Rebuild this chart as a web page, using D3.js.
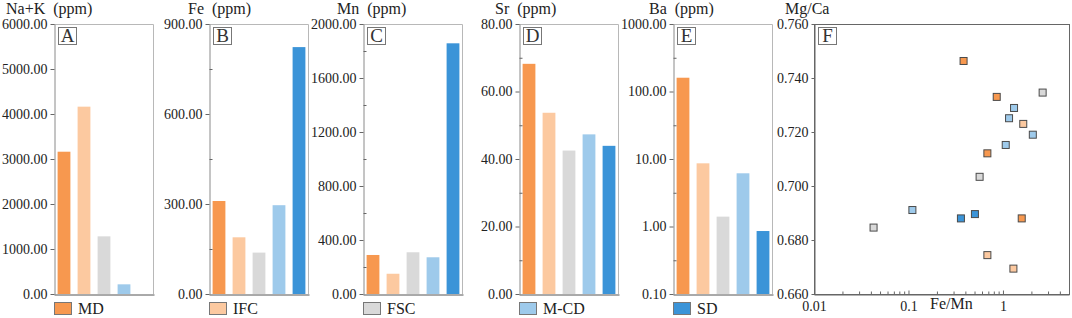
<!DOCTYPE html>
<html>
<head>
<meta charset="utf-8">
<script src="https://cdn.jsdelivr.net/npm/d3@7"></script>
<style>
  body { margin: 0; background: #fff; }
  svg { display: block; }
</style>
</head>
<body>
<svg id="chart" width="1072" height="318"></svg>
<script>
// Element contents by sample type (A-E) and Mg/Ca vs Fe/Mn cross plot (F)
const groups = ["MD", "IFC", "FSC", "M-CD", "SD"];
const colors = ["#f7984f", "#fcc9a0", "#d9d9d9", "#9ecaeb", "#3b94d8"];

const naK = [3162, 4163, 1281, 215, null];
const fe = [310, 189, 138, 296, 823];
const mn = [289, 150, 309, 272, 1857];
const sr = [68.2, 53.7, 42.5, 47.3, 43.9];
const ba = [160, 8.63, 1.40, 6.14, 0.857];

// scatter points (F)
const ptGroup = ["MD", "MD", "FSC", "M-CD", "M-CD", "IFC", "M-CD", "M-CD", "MD",
  "FSC", "M-CD", "SD", "SD", "MD", "FSC", "IFC", "IFC"];
const ptFeMn = [0.383, 0.859, 2.63, 1.31, 1.16, 1.64, 2.07, 1.07, 0.684,
  0.566, 0.110, 0.359, 0.505, 1.58, 0.0427, 0.684, 1.29];
const ptMgCa = [0.7463, 0.7330, 0.7346, 0.7289, 0.7251, 0.7230, 0.7190, 0.7152, 0.7121,
  0.7034, 0.6911, 0.6880, 0.6896, 0.6880, 0.6846, 0.6744, 0.6694];

const barPanels = [
  { key: "A", title: "Na+K\u00a0\u00a0(ppm)", values: naK, left: 54, tx: 6,
    domain: [0, 6000], major: d3.range(0, 6001, 1000), minor: [] },
  { key: "B", title: "Fe\u00a0\u00a0(ppm)", values: fe, left: 209, tx: 188,
    domain: [0, 900], major: [0, 300, 600, 900], minor: [150, 450, 750] },
  { key: "C", title: "Mn\u00a0\u00a0(ppm)", values: mn, left: 363, tx: 337,
    domain: [0, 2000], major: d3.range(0, 2001, 400), minor: d3.range(200, 2000, 400) },
  { key: "D", title: "Sr\u00a0\u00a0(ppm)", values: sr, left: 519, tx: 495,
    domain: [0, 80], major: [0, 20, 40, 60, 80], minor: [10, 30, 50, 70] },
  { key: "E", title: "Ba\u00a0\u00a0(ppm)", values: ba, left: 673, tx: 649, log: true,
    domain: [0.1, 1000], major: [0.1, 1, 10, 100, 1000],
    minor: [0.316, 3.16, 31.6, 316] }
];

const svg = d3.select("#chart");
const yTop = 24, yBottom = 294, pw = 100;
const color = d3.scaleOrdinal().domain(groups).range(colors);
const fmt2 = d3.format(".2f");
const serif = '"Liberation Serif"';

function addText(x, y, size, str) {
  return svg.append("text")
    .attr("x", x).attr("y", y)
    .attr("fill", "#222")
    .style("font-family", serif)
    .style("font-size", size)
    .text(str);
}

function styleAxis(g, lineColor) {
  g.selectAll("path.domain").attr("stroke", lineColor);
  g.selectAll(".tick line").attr("stroke", "#666");
  g.selectAll(".tick text")
    .attr("fill", "#222")
    .style("font-family", serif)
    .style("font-size", "14px");
}

function panelLabel(left, letter) {
  svg.append("rect")
    .attr("x", left + 4.5).attr("y", 27.5)
    .attr("width", 18).attr("height", 17)
    .attr("fill", "#fff").attr("stroke", "#777");
  addText(left + 13.5, 42, "19px", letter)
    .attr("text-anchor", "middle")
    .attr("fill", "#333");
}

barPanels.forEach((p, i) => {
  const x = d3.scaleBand()
    .domain(groups)
    .range([p.left, p.left + pw])
    .paddingInner(0.36)
    .paddingOuter(0.18);
  const y = (p.log ? d3.scaleLog() : d3.scaleLinear())
    .domain(p.domain)
    .range([yBottom, yTop]);

  // bars
  const rows = groups.map((g, j) => ({ g, v: p.values[j] })).filter(d => d.v != null);
  svg.append("g").selectAll("rect")
    .data(rows)
    .join("rect")
    .attr("x", d => x(d.g))
    .attr("width", x.bandwidth())
    .attr("y", d => y(d.v))
    .attr("height", d => yBottom - y(d.v))
    .attr("fill", d => color(d.g));

  // top and right frame
  svg.append("path")
    .attr("d", `M${p.left},${yTop + 0.5}H${p.left + pw - 0.5}V${yBottom}`)
    .attr("fill", "none")
    .attr("stroke", "#b8b8b8");

  // left axis, major ticks outside
  svg.append("g")
    .attr("transform", `translate(${p.left + 0.5},0)`)
    .call(d3.axisLeft(y).tickValues(p.major).tickFormat(fmt2).tickSize(4).tickSizeOuter(0).tickPadding(3))
    .call(g => styleAxis(g, "#8a8a8a"));

  // minor ticks inside
  if (p.minor.length) {
    svg.append("g")
      .attr("transform", `translate(${p.left + 0.5},0)`)
      .call(d3.axisRight(y).tickValues(p.minor).tickFormat("").tickSize(3))
      .call(g => g.select(".domain").remove())
      .call(g => g.selectAll(".tick line").attr("stroke", "#666"));
  }

  // bottom axis line
  svg.append("g")
    .attr("transform", `translate(0,${yBottom + 0.5})`)
    .call(d3.axisBottom(x).tickValues([]).tickSizeOuter(0))
    .call(g => g.select(".domain").attr("stroke", "#555"));

  addText(p.tx, 14, "16px", p.title);
  panelLabel(p.left, p.key);

  // legend item under each panel
  svg.append("rect")
    .attr("x", p.left + 0.5).attr("y", 302.5)
    .attr("width", 17).attr("height", 12)
    .attr("fill", colors[i])
    .attr("stroke", "#777");
  addText(p.left + 24, 314, "16px", groups[i]);
});

// ---- Panel F: Mg/Ca vs Fe/Mn ----
const fLeft = 814, fRight = 1069;
const fx = d3.scaleLog().domain([0.01, 5]).range([fLeft, fRight]);
const fy = d3.scaleLinear().domain([0.66, 0.76]).range([yBottom, yTop]);

svg.append("rect")
  .attr("x", fLeft + 0.5).attr("y", yTop + 0.5)
  .attr("width", fRight - fLeft).attr("height", yBottom - yTop)
  .attr("fill", "none")
  .attr("stroke", "#666");

svg.append("g")
  .attr("transform", `translate(${fLeft + 0.5},0)`)
  .call(d3.axisLeft(fy).tickValues(d3.range(0.66, 0.7601, 0.02)).tickFormat(d3.format(".3f")).tickSize(3).tickSizeOuter(0).tickPadding(3))
  .call(g => styleAxis(g, "#666"));

const xMajor = [0.01, 0.1, 1];
const xMinor = [];
xMajor.forEach(b => d3.range(2, 10).forEach(k => { if (b * k <= 5) xMinor.push(b * k); }));

svg.append("g")
  .attr("transform", `translate(0,${yBottom + 0.5})`)
  .call(d3.axisBottom(fx).tickValues(xMajor).tickFormat(d => String(d)).tickSizeInner(-4).tickSizeOuter(0).tickPadding(7))
  .call(g => styleAxis(g, "#666"));

svg.append("g")
  .attr("transform", `translate(0,${yBottom + 0.5})`)
  .call(d3.axisBottom(fx).tickValues(xMinor).tickFormat("").tickSizeInner(-3).tickSizeOuter(0))
  .call(g => g.select(".domain").remove())
  .call(g => g.selectAll(".tick line").attr("stroke", "#666"));

const pts = ptFeMn.map((v, i) => ({ x: v, y: ptMgCa[i], g: ptGroup[i] }));
svg.append("g").selectAll("rect")
  .data(pts)
  .join("rect")
  .attr("x", d => fx(d.x) - 3.5)
  .attr("y", d => fy(d.y) - 3.5)
  .attr("width", 7).attr("height", 7)
  .attr("fill", d => color(d.g))
  .attr("stroke", "#4a4a4a")
  .attr("stroke-width", 1);

addText(785, 14, "16px", "Mg/Ca");
addText(930, 309, "16px", "Fe/Mn");
panelLabel(fLeft, "F");
</script>
</body>
</html>
